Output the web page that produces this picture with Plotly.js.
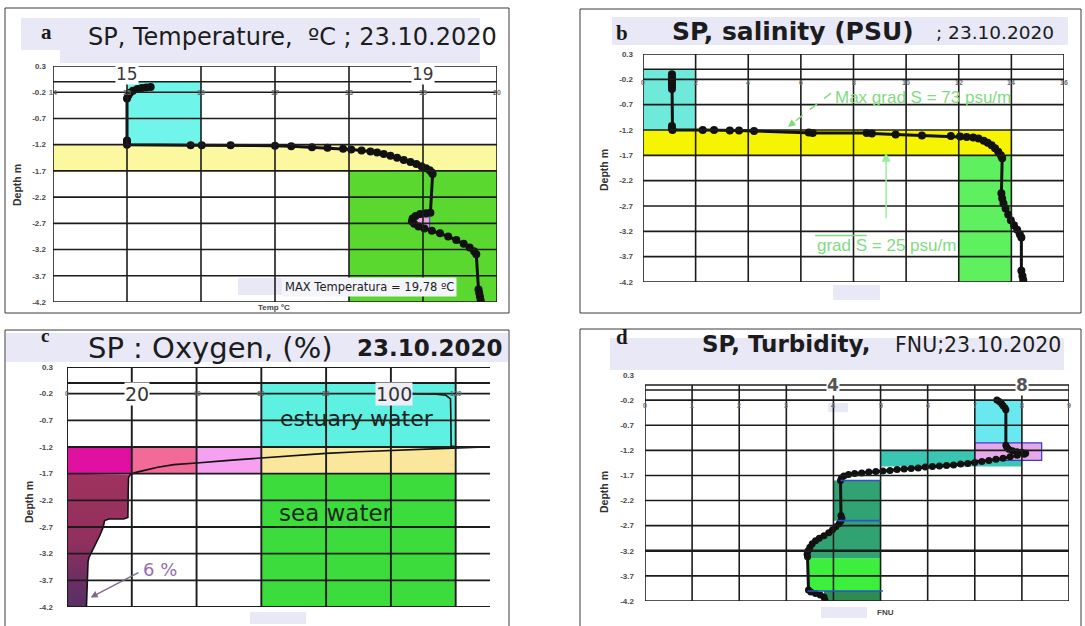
<!DOCTYPE html>
<html>
<head>
<meta charset="utf-8">
<script src="https://cdn.plot.ly/plotly-3.0.1.min.js"></script>
<style>
  html, body { margin: 0; padding: 0; background: #fff; }
  #chart { width: 1085px; height: 626px; }
</style>
</head>
<body>
<div id="chart"></div>
<script>
// ---- Profiles measured at station SP on 23.10.2020 ----
// Depth in metres (negative downwards)
const depthTicks = [0.3, -0.2, -0.7, -1.2, -1.7, -2.2, -2.7, -3.2, -3.7, -4.2];

// a) Temperature, degC
const tempC = [15.32, 15.26, 15.2, 15.14, 15.08, 15.04, 15.02, 15.0, 15.0, 15.0, 15.0,
  15.86, 16.01, 16.4, 17.0, 17.22, 17.5, 17.71, 17.92, 18.03, 18.17, 18.29, 18.38, 18.47,
  18.56, 18.65, 18.74, 18.83, 18.91, 18.98, 19.04, 19.09, 19.12, 19.13,
  19.1, 19.04, 18.96, 18.9, 18.86, 18.85, 18.88, 18.94, 19.02, 19.12, 19.23, 19.34, 19.45,
  19.55, 19.63, 19.69, 19.72, 19.75, 19.76, 19.77, 19.78];
const tempDepth = [-0.10, -0.11, -0.12, -0.14, -0.17, -0.21, -0.26, -0.32, -1.12, -1.16, -1.2,
  -1.21, -1.21, -1.21, -1.22, -1.23, -1.25, -1.26, -1.28, -1.29, -1.31, -1.33, -1.35, -1.38,
  -1.41, -1.45, -1.49, -1.53, -1.57, -1.61, -1.65, -1.69, -1.73, -1.76,
  -2.5, -2.51, -2.52, -2.56, -2.61, -2.66, -2.71, -2.76, -2.8, -2.84, -2.89, -2.95, -3.02,
  -3.09, -3.16, -3.23, -3.29, -3.96, -4.03, -4.1, -4.17];
const tempTicks = [14, 15, 16, 17, 18, 19, 20];
const tempMarked = [15, 19];

// b) Salinity, PSU
const salPSU = [1.1, 1.1, 1.1, 1.1, 1.1, 1.1, 1.1, 1.1, 1.1, 1.1, 1.12,
  2.27, 2.7, 3.3, 3.65, 4.22, 6.3, 6.45, 8.5, 8.7, 9.6, 10.6, 11.7, 12.05, 12.3, 12.55,
  12.75, 12.95, 13.1, 13.25, 13.38, 13.5, 13.6, 13.65,
  13.62, 13.65, 13.7, 13.78, 13.88, 13.98, 14.1, 14.22, 14.32, 14.38, 14.38, 14.42, 14.45];
const salDepth = [-0.10, -0.14, -0.18, -0.22, -0.26, -0.30, -0.35, -0.39, -1.12, -1.17, -1.2,
  -1.2, -1.2, -1.21, -1.21, -1.22, -1.25, -1.26, -1.26, -1.27, -1.29, -1.31, -1.32, -1.33, -1.34, -1.35,
  -1.37, -1.41, -1.45, -1.5, -1.56, -1.63, -1.7, -1.76,
  -2.45, -2.55, -2.65, -2.75, -2.87, -2.98, -3.08, -3.17, -3.26, -3.32, -3.98, -4.08, -4.16];
const salTicks = [0, 2, 4, 6, 8, 10, 12, 14, 16];

// c) Dissolved oxygen saturation, %
const oxyPct = [105, 110, 114, 117, 118.4, 118.5, 118.5, 118.6, 121, 129, 115, 100, 90, 80, 70,
  60, 50, 40, 33, 28, 24, 21, 19.5, 19, 18.9, 18.9, 18.8, 17.5, 13, 11.6, 11.2, 10.2, 9, 8,
  6.8, 6.5, 6.4, 6.2, 6];
const oxyDepth = [-0.2, -0.2, -0.21, -0.23, -0.3, -0.6, -1.0, -1.18, -1.2, -1.2, -1.23, -1.26, -1.29, -1.32, -1.36,
  -1.4, -1.45, -1.5, -1.53, -1.58, -1.63, -1.68, -1.72, -1.78, -2.0, -2.3, -2.52, -2.55, -2.55, -2.58, -2.7, -2.85, -3.0, -3.15,
  -3.27, -3.35, -3.6, -3.95, -4.2];
const oxyTicks = [0, 20, 40, 60, 80, 100, 120];
const oxyMarked = [20, 100];

// d) Turbidity, FNU
const turbFNU = [7.47, 7.52, 7.57, 7.6, 7.64, 7.66, 7.66, 7.68, 7.72, 7.8, 7.9, 8.0, 8.08, 8.05,
  7.9, 7.75, 7.6, 7.45, 7.3, 7.15, 7.0, 6.85, 6.7, 6.55, 6.4, 6.25, 6.1, 5.95, 5.8, 5.65, 5.5,
  5.35, 5.2, 5.05, 4.9, 4.75, 4.6, 4.45, 4.32, 4.22, 4.17, 4.15, 4.16, 4.18, 4.16, 4.12, 4.05,
  3.98, 3.9, 3.8, 3.7, 3.62, 3.55, 3.5, 3.46, 3.44, 3.45, 3.47, 3.52, 3.62, 3.72, 3.8, 3.82];
const turbDepth = [-0.2, -0.23, -0.27, -0.31, -0.35, -0.39, -1.1, -1.14, -1.18, -1.21, -1.23, -1.24, -1.26, -1.28,
  -1.3, -1.33, -1.36, -1.38, -1.4, -1.42, -1.44, -1.46, -1.47, -1.49, -1.5, -1.51, -1.52, -1.53, -1.55, -1.56, -1.57,
  -1.58, -1.6, -1.61, -1.62, -1.63, -1.65, -1.66, -1.68, -1.71, -1.75, -1.8, -2.5, -2.55, -2.6, -2.66, -2.72,
  -2.78, -2.84, -2.9, -2.95, -3.0, -3.06, -3.13, -3.2, -3.27, -3.32, -3.98, -4.02, -4.05, -4.08, -4.12, -4.18];
const turbTicks = [0, 1, 2, 3, 4, 5, 6, 7, 8, 9];
const turbMarked = [4, 8];

// ---- page geometry helpers ----
const W = 1085, H = 626;
const px = v => v / W;
const py = v => 1 - v / H;

const boxA = { l: 53, r: 497, t: 66, b: 302 };
const boxB = { l: 643, r: 1064, t: 54, b: 282 };
const boxC = { l: 67, r: 490, t: 367, b: 607 };
const boxD = { l: 645, r: 1069, t: 375, b: 601 };
const yRange = [-4.2, 0.3];

const lavender = '#e8e8f6';
const gridColor = '#1c1c1c';
const tickFont = { family: 'Liberation Sans', size: 8, color: '#4a4a4a', weight: 'bold' };

function xAxis(n, box, range) {
  return { domain: [px(box.l), px(box.r)], range: range, anchor: 'y' + n,
    showgrid: false, zeroline: false, showline: false, showticklabels: false, ticks: '', fixedrange: true };
}
function yAxis(n, box, standoff) {
  return { domain: [py(box.b), py(box.t)], range: yRange, anchor: 'x' + n,
    tickvals: depthTicks, ticktext: depthTicks.map(v => v.toFixed(1)),
    showgrid: false, zeroline: false, showline: false, ticks: '', ticklabelstandoff: standoff,
    tickfont: tickFont, fixedrange: true };
}

// grid drawn as lines so that every panel can have its own extent
function gridLines(n, xs, ys, xSpan, ySpan, width) {
  const out = [];
  const xr = 'x' + n, yr = 'y' + n;
  xs.forEach(v => out.push({ type: 'line', xref: xr, yref: yr, x0: v, x1: v, y0: ySpan[0], y1: ySpan[1],
    line: { color: gridColor, width: width }, layer: 'above' }));
  ys.forEach(v => out.push({ type: 'line', xref: xr, yref: yr, x0: xSpan[0], x1: xSpan[1], y0: v, y1: v,
    line: { color: gridColor, width: width }, layer: 'above' }));
  return out;
}
function rect(n, x0, x1, y0, y1, fill, line) {
  return { type: 'rect', xref: 'x' + n, yref: 'y' + n, x0, x1, y0, y1, fillcolor: fill,
    line: line || { width: 0 }, layer: 'below' };
}
function paperRect(l, t, r, b, fill, line) {
  return { type: 'rect', xref: 'paper', yref: 'paper', x0: px(l), x1: px(r), y0: py(b), y1: py(t),
    fillcolor: fill, line: line || { width: 0 }, layer: 'below' };
}
function paperText(x, y, text, font, extra) {
  return Object.assign({ xref: 'paper', yref: 'paper', x: px(x), y: py(y), text: text, showarrow: false,
    xanchor: 'left', yanchor: 'middle', font: font }, extra || {});
}
function smallTicks(n, ticks, yPos, skip, yshift) {
  return ticks.filter(v => !skip.includes(v)).map(v => ({ xref: 'x' + n, yref: 'y' + n, x: v, y: yPos,
    text: String(v), showarrow: false, yshift: yshift, font: { family: 'Liberation Sans', size: 7, color: '#6a6a6a', weight: 'bold' } }));
}

const layout = {
  width: W, height: H, margin: { l: 0, r: 0, t: 0, b: 0 },
  paper_bgcolor: '#ffffff', plot_bgcolor: 'rgba(0,0,0,0)', showlegend: false,
  xaxis: xAxis('', boxA, [14, 20]), yaxis: yAxis('', boxA, 6),
  xaxis2: xAxis('2', boxB, [0, 16]), yaxis2: yAxis('2', boxB, 9),
  xaxis3: xAxis('3', boxC, [0, 130.6]), yaxis3: yAxis('3', boxC, 13),
  xaxis4: xAxis('4', boxD, [0, 9]), yaxis4: yAxis('4', boxD, 10),
  shapes: [], annotations: []
};
// the first pair uses plain 'x'/'y' ids
layout.xaxis.anchor = 'y';
layout.yaxis.anchor = 'x';

const S = layout.shapes, A = layout.annotations;
const dTop = depthTicks.slice(1);

// ---- panel frames and title bands ----
const frame = { color: '#3a3a3a', width: 1 };
S.push(paperRect(5, 8, 509, 313, 'rgba(0,0,0,0)', frame));
S.push(paperRect(580, 9, 1081, 313, 'rgba(0,0,0,0)', frame));
S.push(paperRect(5, 330, 509, 640, 'rgba(0,0,0,0)', frame));
S.push(paperRect(580, 329, 1081, 640, 'rgba(0,0,0,0)', frame));

S.push(paperRect(21, 18, 480, 50, lavender));
S.push(paperRect(60, 18, 480, 63, lavender));
S.push(paperRect(612, 17, 1068, 45, lavender));
S.push(paperRect(6, 333, 508, 362, lavender));
S.push(paperRect(610, 338, 1064, 370, lavender));
S.push(paperRect(833, 285, 880, 300, lavender));
S.push(paperRect(250, 612, 306, 624, lavender));
S.push(paperRect(821, 607, 867, 618, lavender));

// ---- a) temperature ----
S.push(rect('', 15, 16, 0, -1.2, '#6ff5ea'));
S.push(rect('', 14, 20, -1.2, -1.7, '#fbf8a0'));
S.push(rect('', 18, 20, -1.7, -4.2, '#5ad830'));
S.push(rect('', 18.89, 19.09, -2.58, -2.79, '#e4a6d8', { color: '#4040c0', width: 1 }));
S.push(...gridLines('', tempTicks, [0.3, 0].concat(dTop), [14, 20], [0.3, -4.2], 1.6));

// ---- b) salinity ----
S.push(rect('2', 0, 2, 0, -1.2, '#6fe9d9'));
S.push(rect('2', 0, 14, -1.2, -1.7, '#f6f400'));
S.push(rect('2', 12, 14, -1.7, -4.2, '#5ef05e'));
S.push(...gridLines('2', salTicks, [0.3, 0].concat(dTop), [0, 16], [0.3, -4.2], 1.6));

// ---- c) oxygen ----
S.push(rect('3', 60, 120, 0, -1.2, '#5ef0e0'));
S.push(rect('3', 0, 20, -1.2, -1.7, '#e010a0'));
S.push(rect('3', 20, 40, -1.2, -1.7, '#f26a98'));
S.push(rect('3', 40, 60, -1.2, -1.7, '#f5a0f0'));
S.push(rect('3', 60, 120, -1.2, -1.7, '#fae79c'));
S.push(rect('3', 60, 120, -1.7, -4.2, '#3cdc3c'));
S.push(...gridLines('3', oxyTicks, [0.3, 0].concat(dTop), [0, 130.6], [0.3, -4.2], 1.9));

// ---- d) turbidity ----
S.push(rect('4', 7, 8, -0.2, -1.05, '#6ae8f0'));
S.push(rect('4', 5, 8, -1.2, -1.52, '#39c6b3'));
S.push(rect('4', 7, 8.42, -1.05, -1.4, '#e6a8e8', { color: '#3a3ad0', width: 1.2 }));
S.push(rect('4', 3.45, 5, -3.35, -4.0, '#3def3d'));
S.push(rect('4', 3.8, 5, -4.0, -4.2, '#2e8c50'));
S.push(rect('4', 3.89, 4.31, -0.26, -0.44, lavender));
S.push(...gridLines('4', turbTicks, [0.1, 0].concat(dTop), [0, 9], [0.1, -4.2], 1.6));
S.push({ type: 'line', xref: 'x4', yref: 'y4', x0: 0, x1: 9, y0: -3.2, y1: -3.2,
  line: { color: gridColor, width: 2.6 }, layer: 'above' });
[[4.15, 5.0, -1.8], [4.1, 5.0, -2.6], [3.45, 5.05, -4.0]].forEach(([a, b, d]) =>
  S.push({ type: 'line', xref: 'x4', yref: 'y4', x0: a, x1: b, y0: d, y1: d,
    line: { color: '#3050d0', width: 1.6 }, layer: 'above' }));

// ---- traces ----
const dotStyle = { size: 8, color: '#111' };
const traces = [];

traces.push({ type: 'scatter', x: tempC, y: tempDepth, xaxis: 'x', yaxis: 'y', mode: 'lines+markers',
  line: { color: '#111', width: 3 }, marker: dotStyle, hoverinfo: 'skip' });

traces.push({ type: 'scatter', x: salPSU, y: salDepth, xaxis: 'x2', yaxis: 'y2', mode: 'lines+markers',
  line: { color: '#111', width: 3 }, marker: dotStyle, hoverinfo: 'skip' });

// low-oxygen layer: area between zero and the profile below the halocline
const lowIdx = oxyDepth.map((d, i) => i).filter(i => oxyDepth[i] <= -1.7);
const lowX = [0].concat(lowIdx.map(i => oxyPct[i]), [0]);
const lowY = [-1.7].concat(lowIdx.map(i => oxyDepth[i]), [-4.2]);
traces.push({ type: 'scatter', x: lowX, y: lowY, xaxis: 'x3', yaxis: 'y3', mode: 'lines',
  fill: 'toself', fillcolor: '#9c2f5c', line: { width: 0 }, hoverinfo: 'skip',
  fillgradient: { type: 'vertical', start: -4.2, stop: -1.7,
    colorscale: [[0, '#553066'], [0.22, '#6e2f62'], [0.5, '#92305e'], [1, '#a0325e']] } });
traces.push({ type: 'scatter', x: oxyPct, y: oxyDepth, xaxis: 'x3', yaxis: 'y3', mode: 'lines',
  line: { color: '#111', width: 1.6 }, hoverinfo: 'skip' });

// bottom turbid layer bounded by the profile
const midIdx = turbDepth.map((d, i) => i).filter(i => turbDepth[i] <= -2.6 && turbDepth[i] >= -3.35);
const midX = [5, 4.0, 4.0].concat(midIdx.map(i => turbFNU[i]), [turbFNU[midIdx[midIdx.length - 1]], 5]);
const midY = [-1.8, -1.8, -2.6].concat(midIdx.map(i => turbDepth[i]), [-3.35, -3.35]);
traces.push({ type: 'scatter', x: midX, y: midY, xaxis: 'x4', yaxis: 'y4', mode: 'lines',
  fill: 'toself', fillcolor: '#31a272', line: { width: 0 }, hoverinfo: 'skip' });
traces.push({ type: 'scatter', x: turbFNU, y: turbDepth, xaxis: 'x4', yaxis: 'y4', mode: 'lines+markers',
  line: { color: '#111', width: 3 }, marker: { size: 7, color: '#111' }, hoverinfo: 'skip' });

// ---- text ----
const panelLetter = { family: 'Liberation Serif', size: 21, color: '#1a1a1a', weight: 'bold' };
const sans = (size, weight, color) => ({ family: 'DejaVu Sans', size: size, weight: weight || 'normal', color: color || '#1c1c1c' });
const nb = '\u00a0';

A.push(paperText(39, 32, 'a', panelLetter));
A.push(paperText(86, 37, 'SP, Temperature,' + nb + nb + 'ºC ; 23.10.2020', sans(24)));
A.push(paperText(614, 33, 'b', panelLetter));
A.push(paperText(670, 31, 'SP, salinity (PSU)', sans(25, 'bold')));
A.push(paperText(934, 32, '; 23.10.2020', sans(18.5)));
A.push(paperText(39, 335, 'c', Object.assign({}, panelLetter, { size: 19 })));
A.push(paperText(86, 348, 'SP : Oxygen, (%)', sans(29)));
A.push(paperText(355, 348, '23.10.2020', sans(23, 'bold')));
A.push(paperText(614, 337, 'd', panelLetter));
A.push(paperText(700, 344, 'SP, Turbidity,', sans(23, 'bold')));
A.push(paperText(893, 345, 'FNU;23.10.2020', sans(20.5)));

const depthTitle = { family: 'Liberation Sans', size: 10.5, color: '#333', weight: 'bold' };
[[17, 185], [604, 170], [29, 502], [604, 492]].forEach(([x, y]) =>
  A.push(paperText(x, y, 'Depth m', depthTitle, { xanchor: 'center', textangle: -90 })));

A.push(paperText(274, 307, 'Temp ºC', { family: 'Liberation Sans', size: 8, color: '#444', weight: 'bold' }, { xanchor: 'center' }));
A.push(paperText(885, 612, 'FNU', { family: 'Liberation Sans', size: 8, color: '#444', weight: 'bold' }, { xanchor: 'center' }));

// small axis numbers on the -0.2 m line
A.push(...smallTicks('', tempTicks, -0.2, [], 0));
A.push(...smallTicks('2', salTicks, -0.2, [], -3));
A.push(...smallTicks('3', oxyTicks, -0.2, oxyMarked, 0));
A.push(...smallTicks('4', turbTicks, -0.2, [], -5));

// highlighted axis values
tempMarked.forEach(v => A.push({ xref: 'x', yref: 'y', x: v, y: 0.15, text: String(v), showarrow: false,
  font: sans(17, 'normal', '#3a3a3a'), bgcolor: '#ffffff', borderpad: 0 }));
A.push({ xref: 'x3', yref: 'y3', x: oxyMarked[0] + 1.6, y: -0.2, text: String(oxyMarked[0]), showarrow: false,
  font: sans(19, 'normal', '#333'), bgcolor: '#ffffff', borderpad: 0 });
A.push({ xref: 'x3', yref: 'y3', x: oxyMarked[1] + 1, y: -0.2, text: String(oxyMarked[1]), showarrow: false,
  font: sans(19, 'normal', '#333'), bgcolor: '#eeeef8', borderpad: 0 });
turbMarked.forEach(v => A.push({ xref: 'x4', yref: 'y4', x: v, y: 0.1, text: String(v), showarrow: false,
  font: sans(17, 'bold', '#555'), bgcolor: '#ffffff', borderpad: 0 }));

// maximum temperature box
const maxT = Math.max(...tempC);
S.push(paperRect(238, 278, 282, 295, lavender));
A.push(paperText(282, 287, 'MAX Temperatura = ' + maxT.toFixed(2).replace('.', ',') + ' ºC',
  sans(11.5, 'normal', '#222'), { bgcolor: '#f4f4fb', borderpad: 2 }));

// salinity gradients
const green = '#7fdc7f';
const gFont = { family: 'Liberation Sans', size: 17, color: green };
A.push({ xref: 'x2', yref: 'y2', x: 7.22, y: -0.55, xanchor: 'left', text: 'Max grad S = 73 psu/m', showarrow: false, font: gFont });
S.push({ type: 'line', xref: 'x2', yref: 'y2', x0: 7.15, y0: -0.47, x1: 5.55, y1: -1.12,
  line: { color: green, width: 1.5, dash: 'dash' }, layer: 'above' });
A.push({ xref: 'x2', yref: 'y2', x: 5.51, y: -1.14, axref: 'x2', ayref: 'y2', ax: 5.8, ay: -1.02, text: '',
  showarrow: true, arrowhead: 2, arrowsize: 1, arrowwidth: 1.5, arrowcolor: green });
A.push({ xref: 'x2', yref: 'y2', x: 6.54, y: -3.47, xanchor: 'left', text: 'grad S = 25 psu/m', showarrow: false, font: gFont });
S.push({ type: 'line', xref: 'x2', yref: 'y2', x0: 6.54, x1: 8.5, y0: -3.28, y1: -3.28,
  line: { color: green, width: 1.5 }, layer: 'above' });
A.push({ xref: 'x2', yref: 'y2', x: 9.24, y: -1.65, axref: 'x2', ayref: 'y2', ax: 9.24, ay: -2.97, text: '',
  showarrow: true, arrowhead: 2, arrowsize: 1.2, arrowwidth: 1.5, arrowcolor: '#98ee98' });

// water masses and oxygen minimum
A.push({ xref: 'x3', yref: 'y3', x: 89.5, y: -0.67, text: 'estuary water', showarrow: false, font: sans(22, 'normal', '#222') });
A.push({ xref: 'x3', yref: 'y3', x: 83, y: -2.44, text: 'sea water', showarrow: false, font: sans(23, 'normal', '#1d2a1d') });
const minO = Math.min(...oxyPct);
A.push({ xref: 'x3', yref: 'y3', x: 23, y: -3.5, xanchor: 'left', text: minO + ' %', showarrow: false, font: sans(18, 'normal', '#9070b0') });
A.push({ xref: 'x3', yref: 'y3', x: 7.3, y: -4.02, axref: 'x3', ayref: 'y3', ax: 22.5, ay: -3.54, text: '',
  showarrow: true, arrowhead: 2, arrowsize: 1, arrowwidth: 1.4, arrowcolor: '#806a8c' });

Plotly.newPlot('chart', traces, layout, { staticPlot: true, displayModeBar: false });
</script>
</body>
</html>
